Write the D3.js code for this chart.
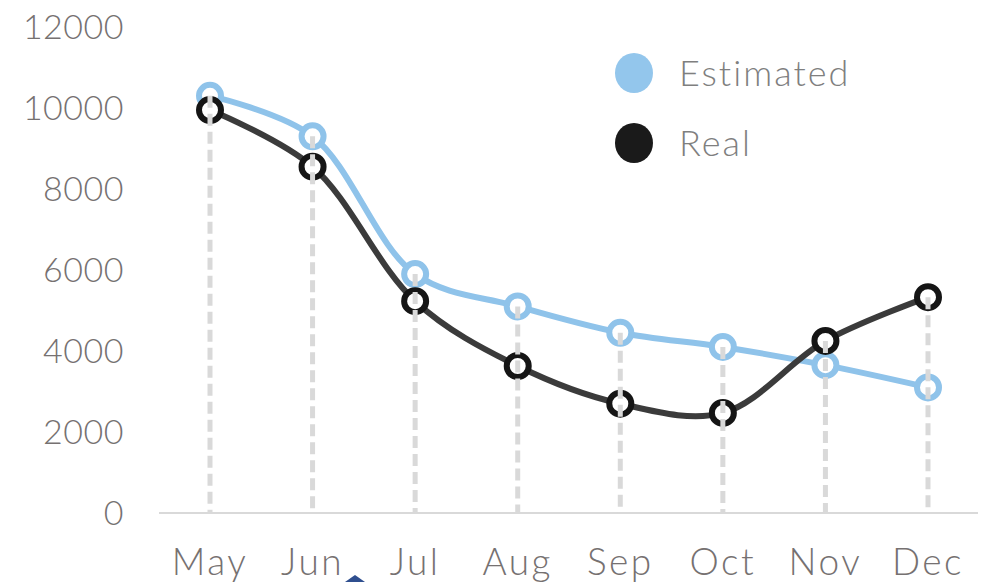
<!DOCTYPE html>
<html>
<head>
  <script src="https://d3js.org/d3.v7.min.js"></script>
  <style>
    body { margin: 0; background: #fff; font-family: "Lato", "Open Sans", sans-serif; }
    .tick-label { fill: #767171; font-size: 34px; font-weight: 300; letter-spacing: 0.5px; }
    .legend-label { fill: #7f7f7f; font-size: 36px; font-weight: 300; letter-spacing: 2px; }
  </style>
</head>
<body>
  <svg id="chart"></svg>
  <script>
    // chart data
    const months = ["May", "Jun", "Jul", "Aug", "Sep", "Oct", "Nov", "Dec"];
    const estimated = [10300, 9300, 5900, 5100, 4450, 4100, 3650, 3100];
    const real = [9950, 8550, 5230, 3630, 2700, 2470, 4250, 5330];
    const yTicks = [0, 2000, 4000, 6000, 8000, 10000, 12000];

    const width = 989;
    const height = 582;

    const svg = d3.select("#chart")
      .attr("width", width)
      .attr("height", height);

    const x = d3.scalePoint().domain(months).range([210, 928]);
    const y = d3.scaleLinear().domain([0, 12000]).range([513, 27]);

    // baseline
    svg.append("line")
      .attr("x1", 159).attr("x2", 978)
      .attr("y1", y(0)).attr("y2", y(0))
      .attr("stroke", "#d9d9d9")
      .attr("stroke-width", 2);

    // y labels
    svg.selectAll(".ylab")
      .data(yTicks)
      .enter()
      .append("text")
      .attr("class", "tick-label")
      .attr("x", 124)
      .attr("y", (d) => y(d))
      .attr("dy", "0.36em")
      .attr("text-anchor", "end")
      .text((d) => d);

    // x labels
    svg.selectAll(".xlab")
      .data(months)
      .enter()
      .append("text")
      .attr("class", "tick-label")
      .attr("x", (d) => x(d))
      .attr("y", 575)
      .attr("text-anchor", "middle")
      .style("font-size", "37px")
      .style("letter-spacing", "2.5px")
      .text((d) => d);

    const line = d3.line()
      .x((d, i) => x(months[i]))
      .y((d) => y(d))
      .curve(d3.curveCatmullRom.alpha(0.5));

    const series = [
      { name: "Estimated", values: estimated, line: "#8fc3ea", mark: "#8fc3ea" },
      { name: "Real", values: real, line: "#3b3b3b", mark: "#151515" }
    ];

    series.forEach((s) => {
      svg.append("path")
        .attr("d", line(s.values))
        .attr("fill", "none")
        .attr("stroke", s.line)
        .attr("stroke-width", 6);
    });

    series.forEach((s) => {
      svg.selectAll(null)
        .data(s.values)
        .enter()
        .append("circle")
        .attr("cx", (d, i) => x(months[i]))
        .attr("cy", (d) => y(d))
        .attr("r", 11)
        .attr("fill", "#fff")
        .attr("stroke", s.mark)
        .attr("stroke-width", 6);
    });

    // drop lines
    svg.selectAll(".drop")
      .data(months)
      .enter()
      .append("line")
      .attr("x1", (d) => x(d))
      .attr("x2", (d) => x(d))
      .attr("y1", (d, i) => y(Math.max(estimated[i], real[i])))
      .attr("y2", y(0))
      .attr("stroke", "#d9d9d9")
      .attr("stroke-width", 5)
      .attr("stroke-dasharray", "12,6");

    // legend
    const legend = svg.selectAll(".legend")
      .data(series)
      .enter()
      .append("g")
      .attr("transform", (d, i) => `translate(634, ${73 + i * 70})`);

    legend.append("ellipse")
      .attr("rx", 19).attr("ry", 20)
      .attr("fill", (d) => d.name === "Real" ? "#1a1a1a" : "#93c6ec");

    legend.append("text")
      .attr("class", "legend-label")
      .attr("x", 45)
      .attr("dy", "0.36em")
      .text((d) => d.name);

    // small shape peeking in at bottom edge
    svg.append("path")
      .attr("d", "M345,582 L355,575 L365,582 Z")
      .attr("fill", "#2f4f8f");
  </script>
</body>
</html>
